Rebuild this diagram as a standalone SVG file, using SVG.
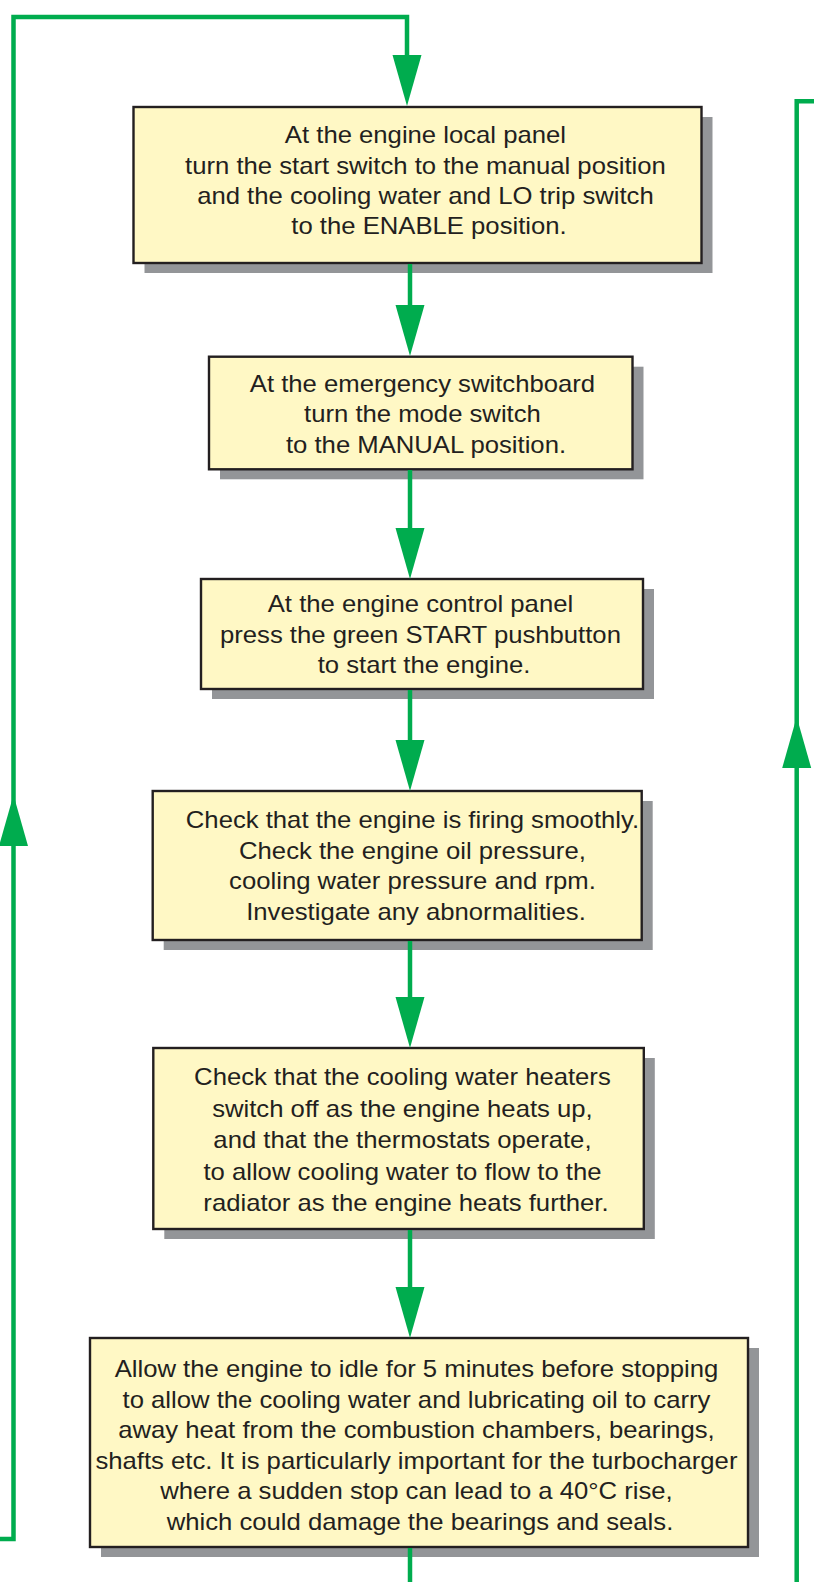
<svg xmlns="http://www.w3.org/2000/svg" xmlns:xlink="http://www.w3.org/1999/xlink" width="814" height="1582" viewBox="0 0 814 1582">
  <style>
    .shadow { fill: #939598; }
    .box { fill: #fff8c5; stroke: #231f20; stroke-width: 2.4; }
    .t { font-family: "Liberation Sans", Arial, Helvetica, sans-serif; font-size: 24px; fill: #231f20; text-anchor: middle; }
    .wire { fill: none; stroke: #00ac4e; stroke-width: 4.5; stroke-linejoin: miter; stroke-linecap: butt; }
    .head { fill: #00ac4e; }
  </style>
  <defs>
    <!-- arrowhead pointing down, base centred on the origin -->
    <path id="ah" d="M-14.5,0 L14.5,0 L0,51 Z"/>
  </defs>

  <rect width="814" height="1582" fill="#ffffff"/>

  <g id="step1">
    <rect class="shadow" x="144.5" y="117" width="568" height="156"/>
    <rect class="box" x="133.5" y="107" width="568" height="156"/>
    <text class="t" transform="translate(429,0) scale(1.07,1)">
      <tspan x="0" y="143.3">At the engine local panel</tspan>
      <tspan x="0" y="173.6">turn the start switch to the manual position</tspan>
      <tspan x="0" y="203.9">and the cooling water and LO trip switch</tspan>
      <tspan x="0" y="234.2">to the ENABLE position.</tspan>
    </text>
  </g>

  <g id="step2">
    <rect class="shadow" x="220" y="366.7" width="423.5" height="112.6"/>
    <rect class="box" x="209" y="356.7" width="423.5" height="112.6"/>
    <text class="t" transform="translate(426,0) scale(1.07,1)">
      <tspan x="0" y="391.7">At the emergency switchboard</tspan>
      <tspan x="0" y="422.2">turn the mode switch</tspan>
      <tspan x="0" y="452.7">to the MANUAL position.</tspan>
    </text>
  </g>

  <g id="step3">
    <rect class="shadow" x="212" y="589" width="442" height="110"/>
    <rect class="box" x="201" y="579" width="442" height="110"/>
    <text class="t" transform="translate(424,0) scale(1.07,1)">
      <tspan x="0" y="612.5">At the engine control panel</tspan>
      <tspan x="0" y="643">press the green START pushbutton</tspan>
      <tspan x="0" y="673.5">to start the engine.</tspan>
    </text>
  </g>

  <g id="step4">
    <rect class="shadow" x="163.7" y="801" width="489" height="149"/>
    <rect class="box" x="152.7" y="791" width="489" height="149"/>
    <text class="t" transform="translate(416,0) scale(1.07,1)">
      <tspan x="0" y="828.3">Check that the engine is firing smoothly.</tspan>
      <tspan x="0" y="858.8">Check the engine oil pressure,</tspan>
      <tspan x="0" y="889.3">cooling water pressure and rpm.</tspan>
      <tspan x="0" y="919.8">Investigate any abnormalities.</tspan>
    </text>
  </g>

  <g id="step5">
    <rect class="shadow" x="164.3" y="1058" width="490.5" height="181"/>
    <rect class="box" x="153.3" y="1048" width="490.5" height="181"/>
    <text class="t" transform="translate(406,0) scale(1.07,1)">
      <tspan x="0" y="1085.5">Check that the cooling water heaters</tspan>
      <tspan x="0" y="1117">switch off as the engine heats up,</tspan>
      <tspan x="0" y="1148.5">and that the thermostats operate,</tspan>
      <tspan x="0" y="1180">to allow cooling water to flow to the</tspan>
      <tspan x="0" y="1211.5">radiator as the engine heats further.</tspan>
    </text>
  </g>

  <g id="step6">
    <rect class="shadow" x="101" y="1348" width="658" height="209"/>
    <rect class="box" x="90" y="1338" width="658" height="209"/>
    <text class="t" transform="translate(420,0) scale(1.07,1)">
      <tspan x="0" y="1377">Allow the engine to idle for 5 minutes before stopping</tspan>
      <tspan x="0" y="1407.6">to allow the cooling water and lubricating oil to carry</tspan>
      <tspan x="0" y="1438.2">away heat from the combustion chambers, bearings,</tspan>
      <tspan x="0" y="1468.8">shafts etc. It is particularly important for the turbocharger</tspan>
      <tspan x="0" y="1499.4">where a sudden stop can lead to a 40°C rise,</tspan>
      <tspan x="0" y="1530">which could damage the bearings and seals.</tspan>
    </text>
  </g>

  <g id="connectors">
    <!-- return loop on the left into the first step -->
    <path class="wire" d="M0,1539 H13.5 V17 H407 V56"/>
    <use class="head" xlink:href="#ah" transform="translate(407,55)"/>
    <use class="head" xlink:href="#ah" transform="translate(13.5,846) rotate(180)"/>

    <!-- step to step -->
    <path class="wire" d="M410,264 V306"/>
    <use class="head" xlink:href="#ah" transform="translate(410,305)"/>
    <path class="wire" d="M410,470 V529"/>
    <use class="head" xlink:href="#ah" transform="translate(410,528)"/>
    <path class="wire" d="M410,690 V741"/>
    <use class="head" xlink:href="#ah" transform="translate(410,740)"/>
    <path class="wire" d="M410,941 V998"/>
    <use class="head" xlink:href="#ah" transform="translate(410,997)"/>
    <path class="wire" d="M410,1230 V1288"/>
    <use class="head" xlink:href="#ah" transform="translate(410,1287)"/>

    <!-- exit below the last step -->
    <path class="wire" d="M410,1548 V1582"/>

    <!-- rising line on the right -->
    <path class="wire" d="M814,101.3 H796.7 V1582"/>
    <use class="head" xlink:href="#ah" transform="translate(796.7,768) rotate(180)"/>
  </g>
</svg>
